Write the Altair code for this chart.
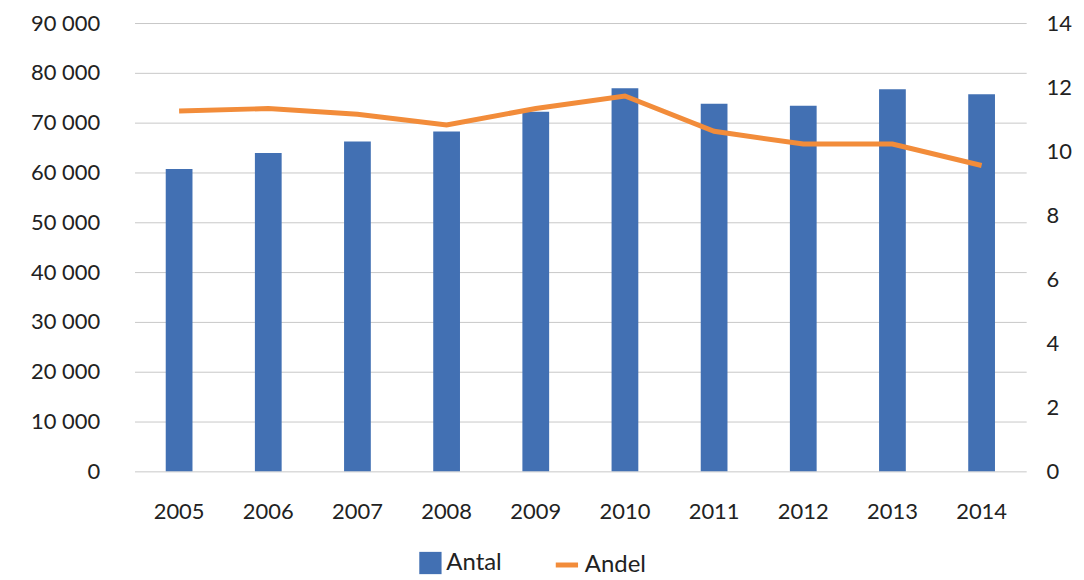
import altair as alt
import pandas as pd

years = ["2005","2006","2007","2008","2009","2010","2011","2012","2013","2014"]
antal = [60700, 63900, 66200, 68200, 72200, 76900, 73800, 73400, 76700, 75700]
andel = [11.25, 11.33, 11.15, 10.82, 11.33, 11.72, 10.62, 10.22, 10.22, 9.55]

df = pd.DataFrame({"year": years, "antal": antal, "andel": andel,
                   "s1": "Antal", "s2": "Andel"})
FONT = "Lato"
base = alt.Chart(df).encode(
    x=alt.X("year:N", axis=alt.Axis(title=None, labelAngle=0, labelFontSize=22,
            labelFont=FONT, labelColor="#222", domain=False, ticks=False,
            labelPadding=30), scale=alt.Scale(paddingInner=0.7, paddingOuter=0.35)))

bars = base.mark_bar(color="#4270b3").encode(
    y=alt.Y("antal:Q", scale=alt.Scale(domain=[0, 90000]),
            axis=alt.Axis(title=None, values=list(range(0, 90001, 10000)),
                          labelExpr="replace(format(datum.value, ',d'), ',', ' ')",
                          labelFontSize=22, labelFont=FONT, labelColor="#222",
                          gridColor="#c8c8c8", domain=False, ticks=False, labelPadding=35)),
    color=alt.Color("s1:N", scale=alt.Scale(domain=["Antal"], range=["#4270b3"]),
                    legend=alt.Legend(title=None, orient="none", legendX=285, legendY=530,
                                      symbolType="square", symbolSize=500,
                                      labelFontSize=24, labelFont=FONT, labelColor="#222")))

line = base.mark_line(strokeWidth=5).encode(
    y=alt.Y("andel:Q", scale=alt.Scale(domain=[0, 14]),
            axis=alt.Axis(title=None, orient="right", values=list(range(0, 15, 2)),
                          labelFontSize=22, labelFont=FONT, labelColor="#222",
                          grid=False, domain=False, ticks=False, labelPadding=20)),
    stroke=alt.Stroke("s2:N", scale=alt.Scale(domain=["Andel"], range=["#f28c3a"]),
                      legend=alt.Legend(title=None, orient="none", legendX=420, legendY=530,
                                        symbolType="stroke", symbolStrokeWidth=5, symbolSize=500,
                                        labelFontSize=24, labelFont=FONT, labelColor="#222")))

chart = alt.layer(bars, line).resolve_scale(y="independent", color="independent").properties(
    width=895, height=450,
    autosize=alt.AutoSizeParams(type="none"),
    padding={"left": 127, "top": 14, "right": 50, "bottom": 115},
).configure_view(stroke=None)

chart.save("out.html", embed_options={"renderer": "svg", "actions": False})
